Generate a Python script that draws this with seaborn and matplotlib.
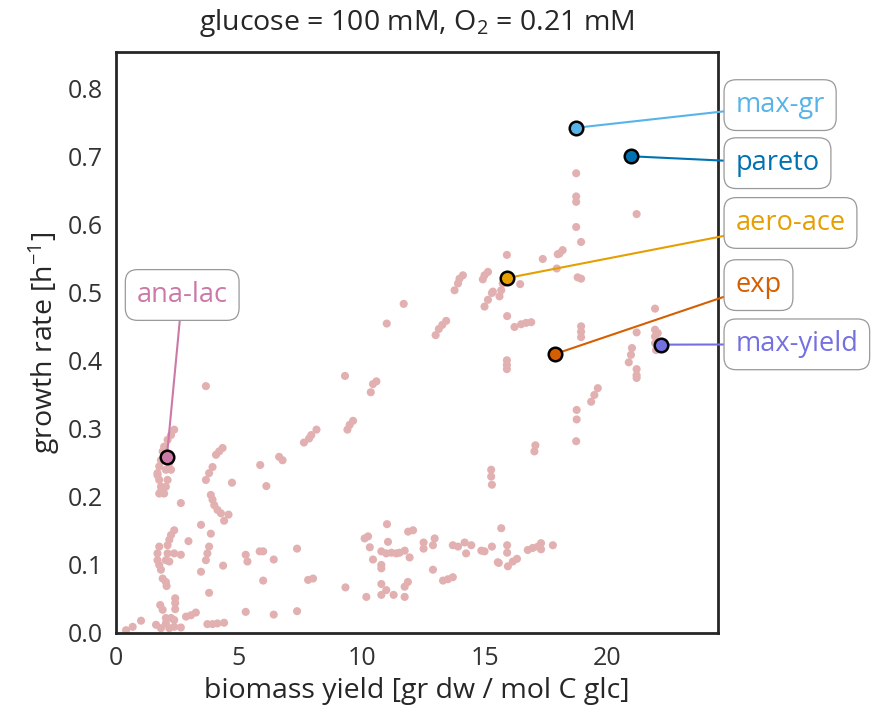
import numpy as np
import pandas as pd
import matplotlib
matplotlib.use("Agg")
import matplotlib.pyplot as plt
import seaborn as sns

# background strategies (biomass yield, growth rate)
yield_pts = [
    # ana-lac column
    2.37, 2.24, 2.10, 1.96, 1.90, 1.83, 1.76, 1.69, 1.76, 1.83, 1.76, 2.10, 2.03, 1.96, 2.17, 2.24, 1.69, 1.83, 2.03, 2.15,
    # cluster around x=4
    3.66, 4.34, 4.20, 4.07, 3.93, 3.79, 3.66, 4.72, 2.64, 3.86, 3.93, 4.00, 4.13, 4.27, 4.58, 4.40, 3.46, 3.86,
    # diagonal band
    5.87, 6.64, 6.78, 6.12, 7.86, 7.65, 8.16, 7.95, 9.32, 10.60, 10.46, 10.37, 9.65, 9.51, 9.42, 11.02, 11.71,
    13.44, 13.28, 13.14, 13.01, 14.12, 13.98, 13.92, 13.78, 15.14, 15.00, 14.93, 15.30, 15.14, 15.00,
    # around aero-ace
    15.74, 15.68, 15.61, 15.34, 16.45, 15.91, 17.37, 17.98, 18.18, 18.05, 17.94, 18.79, 18.93, 18.93, 18.73,
    18.73, 18.73, 18.73, 21.19, 15.92, 16.22, 16.49, 16.69, 16.90, 18.93, 18.93, 18.93, 15.91, 15.91, 15.91,
    # right group
    21.19, 21.94, 21.94, 21.94, 21.94, 22.05, 21.98, 21.00, 20.96, 20.87, 21.19, 21.19, 21.19, 19.61, 19.47,
    19.34, 18.75, 18.75, 18.73, 17.07, 17.03, 15.27, 15.27, 15.30,
    # low growth, middle
    11.03, 11.07, 10.12, 10.26, 10.33, 11.89, 12.09, 10.80, 11.00, 11.21, 11.41, 11.54, 11.75, 10.46, 10.80,
    10.80, 11.95, 12.52, 12.52, 12.97, 12.90, 13.71, 13.92, 14.19, 14.46, 14.25, 14.87, 15.00, 15.30, 15.54,
    12.90, 13.31, 13.51, 13.71, 10.80, 11.00, 10.80, 11.30, 11.75, 11.75, 11.88, 10.19, 15.68, 15.92, 15.92,
    15.58, 15.95, 16.15, 16.32, 16.76, 16.96, 17.17, 17.30, 17.30, 17.78,
    # low growth, left
    2.37, 2.24, 2.17, 2.10, 2.95, 1.76, 1.69, 1.69, 1.76, 1.83, 2.10, 2.03, 2.17, 2.37, 2.64, 3.79, 3.72, 3.66,
    3.46, 4.36, 5.28, 5.35, 5.85, 5.99, 6.42, 7.37, 5.99, 7.82, 8.02, 9.34, 1.90, 2.03, 2.06, 3.79, 2.41, 2.41,
    2.41, 1.80, 1.90, 2.85, 3.05, 3.25, 3.72, 3.93, 4.13, 4.40, 1.63, 1.83, 2.03, 2.17, 2.37, 2.37, 2.64, 2.03,
    2.24, 1.02, 0.68, 0.41, 5.28, 6.42, 7.37,
]
growth_pts = [
    0.299, 0.291, 0.284, 0.274, 0.267, 0.254, 0.245, 0.235, 0.225, 0.215, 0.205, 0.225, 0.215, 0.205, 0.250, 0.240, 0.232, 0.208, 0.240, 0.254,
    0.363, 0.272, 0.267, 0.262, 0.244, 0.235, 0.225, 0.221, 0.191, 0.203, 0.196, 0.188, 0.181, 0.176, 0.174, 0.165, 0.159, 0.146,
    0.247, 0.259, 0.254, 0.216, 0.286, 0.280, 0.299, 0.291, 0.378, 0.370, 0.366, 0.354, 0.312, 0.306, 0.299, 0.455, 0.484,
    0.459, 0.453, 0.447, 0.438, 0.526, 0.521, 0.514, 0.504, 0.531, 0.526, 0.520, 0.500, 0.490, 0.480,
    0.514, 0.504, 0.495, 0.502, 0.513, 0.556, 0.550, 0.557, 0.563, 0.558, 0.536, 0.523, 0.521, 0.575, 0.597,
    0.634, 0.642, 0.676, 0.616, 0.466, 0.450, 0.454, 0.456, 0.457, 0.451, 0.443, 0.435, 0.401, 0.394, 0.388,
    0.442, 0.477, 0.446, 0.436, 0.426, 0.441, 0.416, 0.419, 0.409, 0.398, 0.388, 0.379, 0.375, 0.360, 0.350,
    0.340, 0.328, 0.314, 0.282, 0.276, 0.267, 0.240, 0.230, 0.218,
    0.160, 0.134, 0.139, 0.142, 0.126, 0.149, 0.151, 0.120, 0.117, 0.118, 0.117, 0.118, 0.121, 0.108, 0.100,
    0.095, 0.111, 0.133, 0.124, 0.139, 0.129, 0.129, 0.127, 0.133, 0.129, 0.117, 0.121, 0.120, 0.127, 0.104,
    0.093, 0.077, 0.079, 0.082, 0.072, 0.063, 0.056, 0.056, 0.053, 0.068, 0.075, 0.053, 0.154, 0.129, 0.118,
    0.103, 0.098, 0.105, 0.109, 0.122, 0.125, 0.127, 0.132, 0.123, 0.129,
    0.151, 0.144, 0.137, 0.129, 0.135, 0.127, 0.117, 0.107, 0.100, 0.093, 0.117, 0.107, 0.105, 0.117, 0.115, 0.127, 0.117, 0.107,
    0.090, 0.099, 0.115, 0.105, 0.120, 0.120, 0.108, 0.124, 0.077, 0.078, 0.080, 0.067, 0.080, 0.075, 0.069, 0.059, 0.051, 0.044,
    0.035, 0.041, 0.034, 0.024, 0.026, 0.030, 0.013, 0.013, 0.014, 0.015, 0.012, 0.007, 0.014, 0.007, 0.009, 0.019, 0.008, 0.022,
    0.022, 0.018, 0.009, 0.004, 0.031, 0.027, 0.032,
]

# highlighted strategies
hl_names = ["max-gr", "pareto", "aero-ace", "exp", "max-yield", "ana-lac"]
hl_yield = [18.74, 20.98, 15.93, 17.85, 22.20, 2.07]
hl_growth = [0.743, 0.701, 0.522, 0.410, 0.424, 0.259]
hl_colors = ["#56B4E9", "#0072B2", "#E69F00", "#D55E00", "#7570E0", "#CC79A7"]
# label positions in axes fraction
hl_text_x = [1.029, 1.029, 1.029, 1.029, 1.029, 0.110]
hl_text_y = [0.909, 0.809, 0.706, 0.599, 0.497, 0.582]
hl_ha = ["left", "left", "left", "left", "left", "center"]

sns.set_theme(style="white")
plt.rcParams["font.family"] = ["Open Sans", "DejaVu Sans"]
plt.rcParams["mathtext.default"] = "regular"

df = pd.DataFrame({"yield": yield_pts, "growth": growth_pts})

fig = plt.figure(figsize=(8.82, 7.16), dpi=100)
ax = fig.add_axes([0.1315, 0.116, 0.6825, 0.811])

sns.scatterplot(data=df, x="yield", y="growth", color="#E2B0B0", s=34,
                edgecolor="none", ax=ax, zorder=2)

for i in range(len(hl_names)):
    sns.scatterplot(x=[hl_yield[i]], y=[hl_growth[i]], color=hl_colors[i], s=95,
                    edgecolor="black", linewidth=1.8, ax=ax, zorder=5)
    ax.annotate(hl_names[i], xy=(hl_yield[i], hl_growth[i]),
                xytext=(hl_text_x[i], hl_text_y[i]), textcoords="axes fraction",
                ha=hl_ha[i], va="center", fontsize=19.5, color=hl_colors[i],
                bbox=dict(boxstyle="round,pad=0.42,rounding_size=0.45", fc="white", ec="#999999", lw=0.9),
                arrowprops=dict(arrowstyle="-", color=hl_colors[i], lw=1.5, shrinkA=0, shrinkB=0),
                annotation_clip=False, zorder=4)

ax.set_xlim(0, 24.5)
ax.set_ylim(0, 0.854)
ax.set_xticks([0, 5, 10, 15, 20])
ax.set_yticks([0.0, 0.1, 0.2, 0.3, 0.4, 0.5, 0.6, 0.7, 0.8])
ax.tick_params(labelsize=18, colors="#333333")
ax.set_xlabel("biomass yield [gr dw / mol C glc]", fontsize=20.5, color="#262626")
ax.set_ylabel("growth rate [h$^{-1}$]", fontsize=20.5, color="#262626")
ax.set_title("glucose = 100 mM, O$_2$ = 0.21 mM", fontsize=20.5, color="#262626", pad=16)
for sp in ax.spines.values():
    sp.set_color("#262626")
    sp.set_linewidth(2)

fig.savefig("out.png", dpi=100)
